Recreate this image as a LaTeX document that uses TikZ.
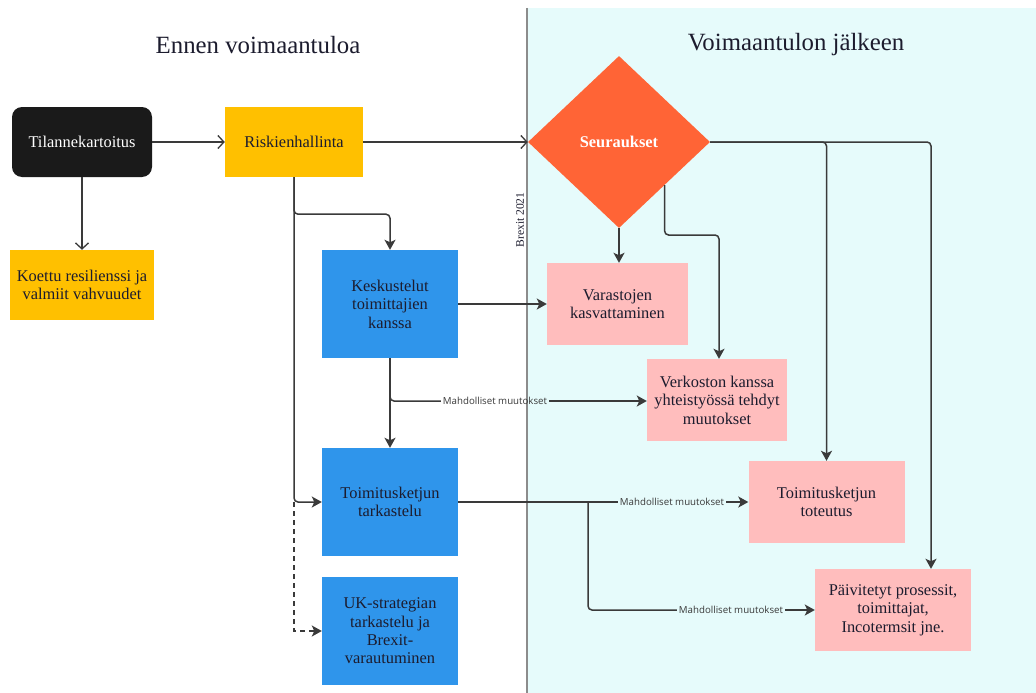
\documentclass[tikz,border=0pt]{standalone}
\usepackage{fontspec}
\setmainfont{Liberation Serif}
\newfontfamily\lblfont{Open Sans}
\usetikzlibrary{shapes.geometric,arrows.meta,calc}

\definecolor{zoneafter}{HTML}{E6FBFB}
\definecolor{divider}{HTML}{8C8C8C}
\definecolor{wire}{HTML}{3A3A3A}
\definecolor{boxblack}{HTML}{1A1A1A}
\definecolor{boxyellow}{HTML}{FFC000}
\definecolor{boxblue}{HTML}{2F95EB}
\definecolor{boxpink}{HTML}{FFBDBD}
\definecolor{boxorange}{HTML}{FF6436}
\definecolor{ink}{HTML}{1C1C2E}
\definecolor{lblink}{HTML}{3A3A3A}

\begin{document}
\begin{tikzpicture}[x=1pt,y=-1pt,
  card/.style 2 args={rectangle, minimum width=#1, minimum height=#2, inner sep=2pt,
    align=center, text=ink, font=\fontsize{16.4}{18.4}\selectfont},
  yellowcard/.style={fill=boxyellow},
  bluecard/.style={fill=boxblue},
  pinkcard/.style={fill=boxpink},
  heading/.style={font=\fontsize{24.8}{28}\selectfont, text=ink},
  lbl/.style={font=\lblfont\fontsize{9.7}{11}\selectfont, text=lblink, inner sep=2pt},
  wireline/.style={draw=wire, line width=1.5},
  openhead/.style={wireline, -{Straight Barb[length=6,width=13,line width=1.3]}},
  solidhead/.style={wireline, -{Stealth[length=10,width=11,inset=2.5]}},
]

% canvas and the two time zones
\fill[white] (0,0) rectangle (1036,693);
\useasboundingbox (0,0) rectangle (1036,693);
\fill[zoneafter] (527,8) rectangle (1036,693);
\draw[divider, line width=2.6] (527,8) -- (527,693);

% headings
\node[heading] (hBefore) at (258,45) {Ennen voimaantuloa};
\node[heading] (hAfter) at (796,45) {Voimaantulon jälkeen};
\node[rotate=90, font=\fontsize{11.6}{13}\selectfont, text=ink] (brexit) at (520,220) {Brexit 2021};

% boxes before the change
\node[card={140}{70}, fill=boxblack, rounded corners=10, text=white] (tila) at (82,142) {Tilannekartoitus};
\node[card={138}{70}, yellowcard] (risk) at (294,142) {Riskienhallinta};
\node[card={144}{70}, yellowcard] (koet) at (82,285) {Koettu resilienssi ja\\valmiit vahvuudet};
\node[card={136}{108}, bluecard] (kesk) at (390,304) {Keskustelut\\toimittajien\\kanssa};
\node[card={136}{108}, bluecard] (tark) at (390,502) {Toimitusketjun\\tarkastelu};
\node[card={136}{108}, bluecard] (uk) at (390,631) {UK-strategian\\tarkastelu ja\\Brexit-\\varautuminen};

% boxes after the change
\node[diamond, fill=boxorange, minimum width=182, minimum height=172, inner sep=0,
  text=white, font=\bfseries\fontsize{16.4}{18.4}\selectfont] (seur) at (619,142) {Seuraukset};
\node[card={141}{82}, pinkcard] (vara) at (617.5,304) {Varastojen\\kasvattaminen};
\node[card={140}{82}, pinkcard] (verk) at (717,400) {Verkoston kanssa\\yhteistyössä tehdyt\\muutokset};
\node[card={156}{82}, pinkcard] (tote) at (826.5,502) {Toimitusketjun\\toteutus};
\node[card={156}{82}, pinkcard] (paiv) at (893,610) {Päivitetyt prosessit,\\toimittajat,\\Incotermsit jne.};

% edge labels
\node[lbl] (m1) at (495,401) {Mahdolliset muutokset};
\node[lbl] (m2) at (672,502) {Mahdolliset muutokset};
\node[lbl] (m3) at (731,610) {Mahdolliset muutokset};

% helper points for the routed connectors
\coordinate (riskSplit) at ($(risk.south)+(0,37)$);
\coordinate (fork) at (588,502);
\coordinate (seurSE) at ($(seur.east)!0.5!(seur.south)$);
\coordinate (kneeA) at (719,235);
\coordinate (paivIn) at ($(paiv.north)+(38,0)$);

% connectors: left side
\draw[openhead] (tila.east) -- (risk.west);
\draw[openhead] (tila.south) -- (koet.north);
\draw[openhead] (risk.east) -- (seur.west);
\draw[solidhead, rounded corners=4] (risk.south) -- (riskSplit) -| (kesk.north);
\draw[solidhead, rounded corners=4] (risk.south) |- (tark.west);
\draw[solidhead, dashed, dash pattern=on 5 off 4] (risk.south |- tark.west) |- (uk.west);
\draw[solidhead] (kesk.east) -- (kesk.east -| vara.west);
\draw[solidhead] (kesk.south) -- (tark.north);
\draw[wireline, rounded corners=4] (kesk.south) |- (m1.west);
\draw[solidhead] (m1.east) -- (m1.east -| verk.west);
\draw[wireline] (tark.east) -- (m2.west);
\draw[solidhead] (m2.east) -- (m2.east -| tote.west);
\draw[wireline, rounded corners=4] (fork) |- (m3.west);
\draw[solidhead] (m3.east) -- (m3.east -| paiv.west);

% connectors: consequences
\draw[solidhead] (seur.south) -- (seur.south |- vara.north);
\draw[solidhead, rounded corners=4] (seurSE) |- (kneeA) -- (verk.north -| kneeA);
\draw[solidhead, rounded corners=4] (seur.east) -| (tote.north);
\draw[solidhead, rounded corners=4] (seur.east) -| (paivIn);

\end{tikzpicture}
\end{document}
